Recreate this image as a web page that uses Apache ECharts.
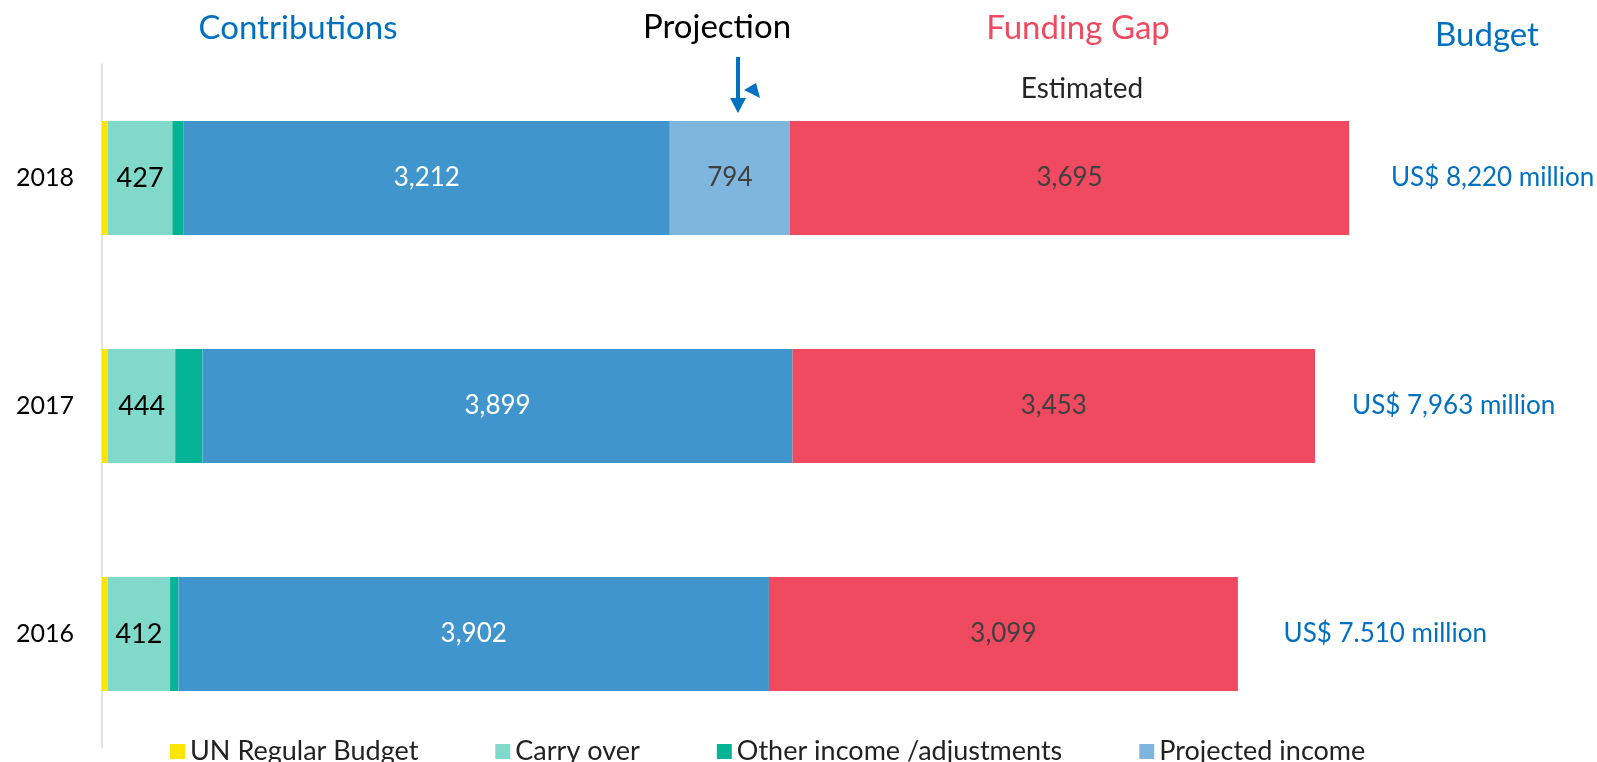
<!DOCTYPE html>
<html>
<head>
<meta charset="utf-8">
<script src="https://cdn.jsdelivr.net/npm/echarts@6/dist/echarts.min.js"></script>
<style>
    html, body { margin: 0; padding: 0; background: #fff; }
    #main { width: 1597px; height: 762px; }
</style>
</head>
<body>
<div id="main"></div>
<script>
// 年份（从下到上）
var years = ['2016', '2017', '2018'];
// 各项数值（百万美元）
var unRegular = [38, 40, 38];
var carryOver = [412, 444, 427];
var otherIncome = [55, 180, 75];
var contributions = [3902, 3899, 3212];
var projected = [0, 0, 794];
var fundingGap = [3099, 3453, 3695];
// 预算总额及标签
var budget = [7510, 7963, 8220];
var budgetLabels = ['US$ 7.510 million', 'US$ 7,963 million', 'US$ 8,220 million'];

var FONT = 'Lato';
var chart = echarts.init(document.getElementById('main'));

function fmt(v) {
    return v ? v.toLocaleString('en-US') : '';
}

function seg(name, data, color, labelColor, size) {
    return {
        name: name,
        type: 'bar',
        stack: 'total',
        data: data,
        barWidth: 114,
        itemStyle: { color: color },
        label: {
            show: !!labelColor,
            position: 'inside',
            color: labelColor,
            fontFamily: FONT,
            fontSize: size || 26,
            formatter: function (p) { return fmt(p.value); }
        },
        emphasis: { disabled: true }
    };
}

var option = {
    animation: false,
    textStyle: { fontFamily: FONT },
    grid: { left: 102, right: 133, top: 64, bottom: 14 },
    legend: {
        data: ['UN Regular Budget', 'Carry over', 'Other income /adjustments', 'Projected income'],
        left: 165,
        top: 733,
        icon: 'rect',
        itemWidth: 15,
        itemHeight: 15,
        itemGap: 77,
        selectedMode: false,
        textStyle: { fontFamily: FONT, fontSize: 27, color: '#222' }
    },
    xAxis: {
        type: 'value',
        min: 0,
        max: 9000,
        show: false
    },
    yAxis: {
        type: 'category',
        data: years,
        axisTick: { show: false },
        axisLine: { lineStyle: { color: '#d9d9d9', width: 1.5 } },
        axisLabel: { color: '#000', fontFamily: FONT, fontSize: 25, margin: 28 }
    },
    series: [
        {
            name: 'Budget',
            type: 'bar',
            data: budget,
            barWidth: 114,
            barGap: '-100%',
            silent: true,
            itemStyle: { color: 'rgba(0,0,0,0)' },
            label: {
                show: true,
                position: 'right',
                distance: 45,
                color: '#0070c0',
                fontFamily: FONT,
                fontSize: 26,
                formatter: function (p) { return budgetLabels[p.dataIndex]; }
            }
        },
        seg('UN Regular Budget', unRegular, '#ffe600', null),
        seg('Carry over', carryOver, '#80d9c9', '#000', 27),
        seg('Other income /adjustments', otherIncome, '#05b395', null),
        seg('Contributions', contributions, '#4195cd', '#fff'),
        seg('Projected income', projected, '#7fb6de', '#404040'),
        seg('Funding Gap', fundingGap, '#ef4a5f', '#404040')
    ],
    graphic: [
        { type: 'text', x: 298, y: 28, style: { text: 'Contributions', fill: '#0070c0', font: '33px Lato', textAlign: 'center', textVerticalAlign: 'middle' } },
        { type: 'text', x: 717, y: 27, style: { text: 'Projection', fill: '#000', font: '33px Lato', textAlign: 'center', textVerticalAlign: 'middle' } },
        { type: 'text', x: 1078, y: 28, style: { text: 'Funding Gap', fill: '#ef4a5f', font: '33px Lato', textAlign: 'center', textVerticalAlign: 'middle' } },
        { type: 'text', x: 1487, y: 35, style: { text: 'Budget', fill: '#0070c0', font: '33px Lato', textAlign: 'center', textVerticalAlign: 'middle' } },
        { type: 'text', x: 1082, y: 89, style: { text: 'Estimated', fill: '#262626', font: '28px Lato', textAlign: 'center', textVerticalAlign: 'middle' } },
        // 向下箭头
        { type: 'line', shape: { x1: 738, y1: 57, x2: 738, y2: 100 }, style: { stroke: '#0070c0', lineWidth: 4 } },
        { type: 'polygon', shape: { points: [[730, 98], [746, 98], [738, 113]] }, style: { fill: '#0070c0' } },
        { type: 'polygon', shape: { points: [[744, 90], [756, 83], [760, 98]] }, style: { fill: '#0070c0' } }
    ]
};

chart.setOption(option);
</script>
</body>
</html>
